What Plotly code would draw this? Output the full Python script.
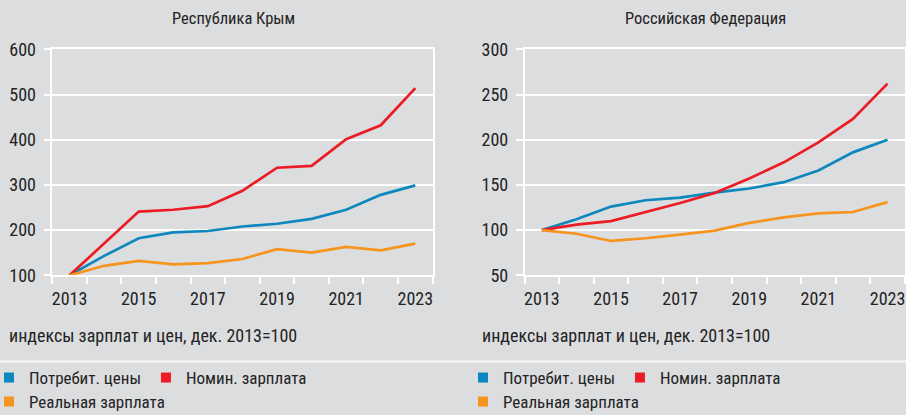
import plotly.graph_objects as go

years = list(range(2013, 2024))
tick_years = [2013, 2015, 2017, 2019, 2021, 2023]

# Республика Крым
crimea_cpi = [100, 143, 182, 195, 198, 208, 214, 225, 245, 278, 299]
crimea_nominal = [100, 170, 241, 245, 253, 287, 338, 342, 401, 432, 514]
crimea_real = [100, 121, 132, 124, 127, 136, 158, 150, 163, 155, 170]

# Российская Федерация
russia_cpi = [100, 112, 126, 133, 136, 141.5, 146, 153, 166, 186, 200]
russia_nominal = [100, 106, 110, 120, 130, 141, 157, 175, 197, 223, 262]
russia_real = [100, 96, 88, 91, 95, 99.5, 108, 114, 118.6, 120, 131]

series_names = ["Потребит. цены", "Номин. зарплата", "Реальная зарплата"]
colors = ["#0d87bd", "#ec1c24", "#f7941d"]

panel_titles = ["Республика Крым", "Российская Федерация"]
footnote = "индексы зарплат и цен, дек. 2013=100"

FONT = "Roboto Condensed, DejaVu Sans Condensed, sans-serif"
TXT = "#232323"
BG = "#dcdddf"

W, H = 906, 415
fig = go.Figure()

panels = [
    (crimea_cpi, crimea_nominal, crimea_real, "x", "y", [100, 600], 100),
    (russia_cpi, russia_nominal, russia_real, "x2", "y2", [50, 300], 50),
]

for pi, (cpi, nom, real, xa, ya, yr, dt) in enumerate(panels):
    for name, vals, col in zip(series_names, [cpi, nom, real], colors):
        fig.add_trace(go.Scatter(x=years, y=vals, mode="lines", name=name,
                                 line=dict(color=col, width=2.7),
                                 xaxis=xa, yaxis=ya, showlegend=False,
                                 hoverinfo="skip"))

legend_map = [("legend", 0), ("legend", 1), ("legend2", 2),
              ("legend3", 0), ("legend3", 1), ("legend4", 2)]
for lg, si in legend_map:
    fig.add_trace(go.Scatter(x=[None], y=[None], mode="markers", name=series_names[si],
                             marker=dict(symbol="square", size=10, color=colors[si]),
                             legend=lg, showlegend=True))

px_x = lambda p: p / W
px_y = lambda p: 1 - p / H

y_top, y_bot = 49.3, 275.3
doms = [(52.3, 432.6), (524.6, 904.8)]

for i, (d0, d1) in enumerate(doms):
    sfx = "" if i == 0 else "2"
    fig.layout["xaxis" + sfx] = dict(
        domain=[px_x(d0), px_x(d1)], anchor="y" + sfx, range=[2012.5, 2023.5],
        tickvals=tick_years, ticktext=[str(t) for t in tick_years], ticks="",
        tickfont=dict(family=FONT, size=18, color=TXT), ticklabelstandoff=6,
        minor=dict(tickvals=[y + 0.5 for y in range(2012, 2024)], ticks="outside",
                   ticklen=7, tickwidth=1.5, tickcolor="white", showgrid=False),
        showgrid=False, zeroline=False, showline=True, linecolor="white",
        linewidth=1.5, mirror=True, automargin=False)
    yr = panels[i][5]
    dt = panels[i][6]
    fig.layout["yaxis" + sfx] = dict(
        domain=[px_y(y_bot), px_y(y_top)], anchor="x" + sfx, range=yr,
        tick0=yr[0], dtick=dt, ticks="outside", ticklen=7, tickwidth=1.5,
        tickcolor="white", tickfont=dict(family=FONT, size=18, color=TXT),
        ticklabelstandoff=4, showgrid=True, gridcolor="white", gridwidth=1.5,
        zeroline=False, showline=True, linecolor="white", linewidth=1.5, mirror=True,
        automargin=False)

annotations = []
for i, (d0, d1) in enumerate(doms):
    annotations.append(dict(text=panel_titles[i], x=px_x((d0 + d1) / 2 - 9), y=px_y(18),
                            xref="paper", yref="paper", showarrow=False,
                            xanchor="center", yanchor="middle",
                            font=dict(family=FONT, size=16.5, color=TXT)))
for x0 in [7, 480]:
    annotations.append(dict(text=footnote, x=px_x(x0), y=px_y(335),
                            xref="paper", yref="paper", showarrow=False,
                            xanchor="left", yanchor="middle",
                            font=dict(family=FONT, size=18, color=TXT)))

legend_style = dict(orientation="h", bgcolor="rgba(0,0,0,0)", xanchor="left",
                    yanchor="middle", font=dict(family=FONT, size=17, color=TXT),
                    itemwidth=30, tracegroupgap=0, itemclick=False)
fig.update_layout(
    legend=dict(x=px_x(-11), y=px_y(378), **legend_style),
    legend2=dict(x=px_x(-11), y=px_y(402), **legend_style),
    legend3=dict(x=px_x(463), y=px_y(378), **legend_style),
    legend4=dict(x=px_x(463), y=px_y(402), **legend_style),
)

fig.update_layout(
    width=W, height=H, margin=dict(l=0, r=0, t=0, b=0, autoexpand=False),
    paper_bgcolor=BG, plot_bgcolor=BG,
    annotations=annotations,
    shapes=[dict(type="line", xref="paper", yref="paper", x0=0, x1=1,
                 y0=px_y(361.5), y1=px_y(361.5), line=dict(color="#f2f2f2", width=2.5))],
)

fig.write_html("out.html", config={"displayModeBar": False},
               post_script="document.body.style.margin='0';"
                           "document.body.style.background='%s';" % BG)
